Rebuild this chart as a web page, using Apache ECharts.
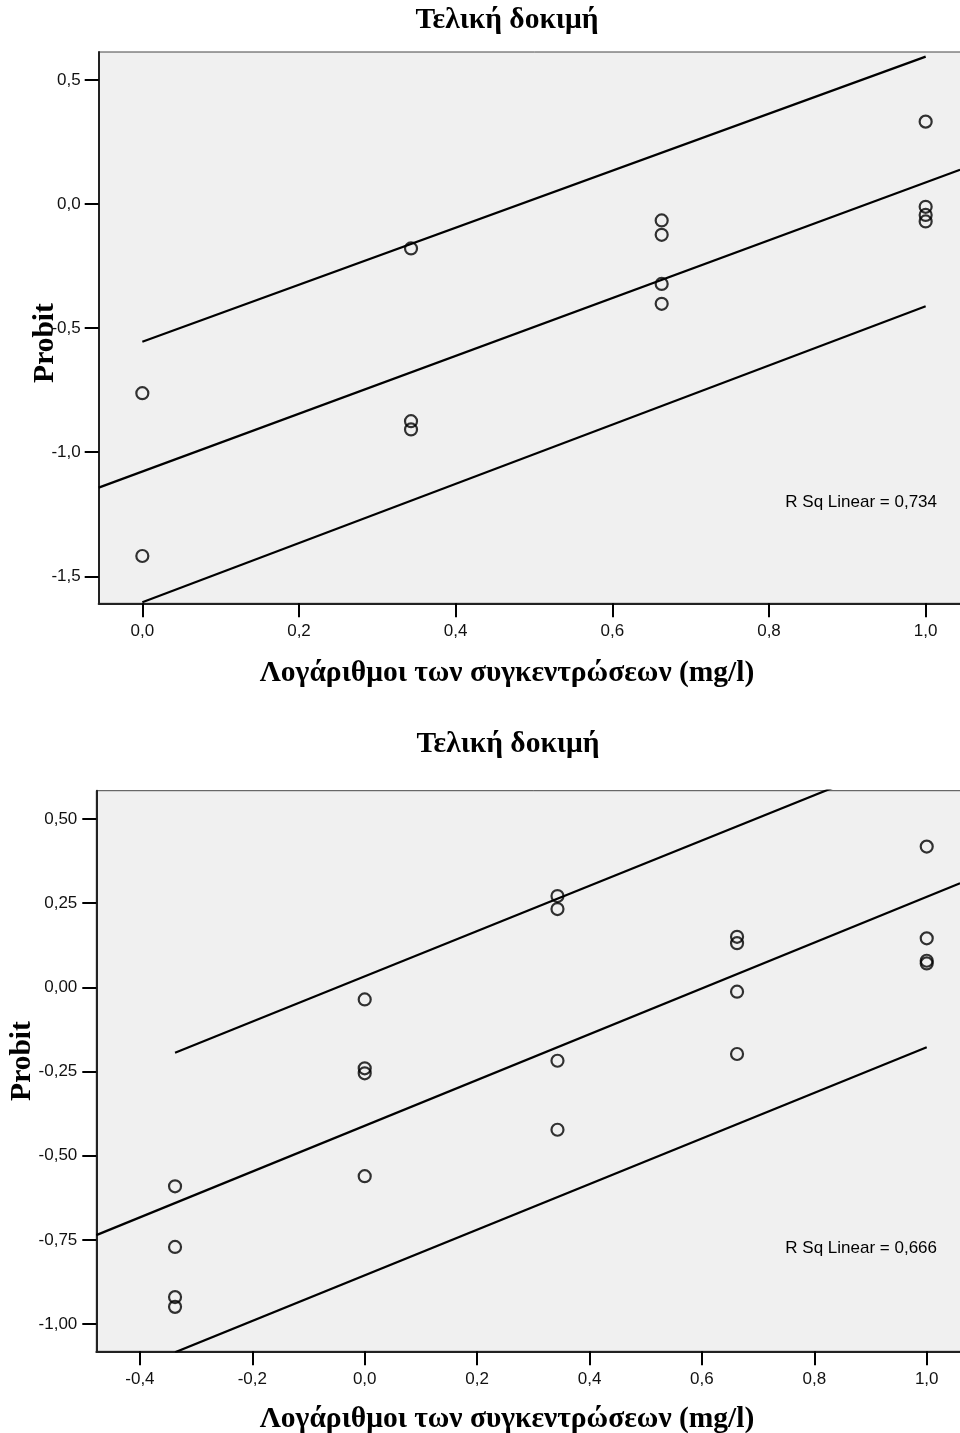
<!DOCTYPE html>
<html>
<head>
<meta charset="utf-8">
<script src="https://cdn.jsdelivr.net/npm/echarts@6/dist/echarts.min.js"></script>
<style>
  html, body { margin: 0; padding: 0; background: #fff; overflow: hidden; width: 960px; }
  #chart { width: 980px; height: 1433px; }
</style>
</head>
<body>
<div id="chart"></div>
<script>
// top panel: points
var topLogConc = [0, 0, 0.343, 0.343, 0.343, 0.663, 0.663, 0.663, 0.663, 1.0, 1.0, 1.0, 1.0];
var topProbit = [-0.762, -1.418, -0.179, -0.875, -0.908, -0.066, -0.124, -0.322, -0.402, 0.332, -0.011, -0.044, -0.070];
// top panel: fit line and prediction bounds
var topFitX = [-0.0557, 1.0439];
var topFitY = [-1.1425, 0.138];
var topUpperX = [0, 1.0];
var topUpperY = [-0.555, 0.594];
var topLowerX = [0, 1.0];
var topLowerY = [-1.604, -0.412];
var topXTicks = [0, 0.2, 0.4, 0.6, 0.8, 1.0];
var topXLabels = ['0,0', '0,2', '0,4', '0,6', '0,8', '1,0'];
var topYTicks = [-1.5, -1.0, -0.5, 0, 0.5];
var topYLabels = ['-1,5', '-1,0', '-0,5', '0,0', '0,5'];
var topRsq = 'R Sq Linear = 0,734';

// bottom panel: points
var botLogConc = [-0.3375, -0.3375, -0.3375, -0.3375, 0, 0, 0, 0, 0.343, 0.343, 0.343, 0.343,
                  0.6625, 0.6625, 0.6625, 0.6625, 1.0, 1.0, 1.0, 1.0];
var botProbit = [-0.591, -0.771, -0.920, -0.949, -0.036, -0.2405, -0.2553, -0.561, 0.271, 0.2325, -0.218, -0.423,
                 0.150, 0.131, -0.013, -0.198, 0.418, 0.1455, 0.079, 0.071];
var botFitX = [-0.4776, 1.0593];
var botFitY = [-0.736, 0.309];
var botUpperX = [-0.3375, 1.0];
var botUpperY = [-0.194, 0.705];
var botLowerX = [-0.3375, 1.0];
var botLowerY = [-1.084, -0.178];
var botXTicks = [-0.4, -0.2, 0, 0.2, 0.4, 0.6, 0.8, 1.0];
var botXLabels = ['-0,4', '-0,2', '0,0', '0,2', '0,4', '0,6', '0,8', '1,0'];
var botYTicks = [-1.0, -0.75, -0.5, -0.25, 0, 0.25, 0.5];
var botYLabels = ['-1,00', '-0,75', '-0,50', '-0,25', '0,00', '0,25', '0,50'];
var botRsq = 'R Sq Linear = 0,666';

var titleText = 'Τελική δοκιμή';
var xName = 'Λογάριθμοι των συγκεντρώσεων (mg/l)';
var yName = 'Probit';

function zip(a, b) {
  return a.map(function (v, i) { return [v, b[i]]; });
}

function labelFor(ticks, labels) {
  return function (v) {
    for (var i = 0; i < ticks.length; i++) {
      if (Math.abs(ticks[i] - v) < 1e-6) return labels[i];
    }
    return '';
  };
}

var sans = '"Liberation Sans", Arial, sans-serif';
var serifBold = 'bold 29.5px "Liberation Serif", "Times New Roman", serif';

function valueAxis(gi, min, max, ticks, labels, margin) {
  return {
    type: 'value',
    gridIndex: gi,
    min: min,
    max: max,
    axisLine: { show: true, onZero: false, lineStyle: { color: '#222', width: 2 } },
    axisTick: { show: true, length: 14, customValues: ticks, lineStyle: { color: '#000', width: 2 } },
    axisLabel: {
      customValues: ticks,
      formatter: labelFor(ticks, labels),
      margin: margin,
      color: '#111',
      fontFamily: sans,
      fontSize: 17
    },
    splitLine: { show: false }
  };
}

function lineSeries(xi, data) {
  return {
    type: 'line',
    xAxisIndex: xi,
    yAxisIndex: xi,
    data: data,
    symbol: 'none',
    clip: true,
    lineStyle: { color: '#000', width: 2.2 },
    silent: true
  };
}

function pointSeries(xi, data) {
  return {
    type: 'scatter',
    xAxisIndex: xi,
    yAxisIndex: xi,
    data: data,
    symbol: 'circle',
    symbolSize: 12,
    itemStyle: { color: 'rgba(0,0,0,0)', borderColor: '#000', borderWidth: 2.2 },
    z: 5
  };
}

function txt(x, y, text, font, align, rot) {
  return {
    type: 'text',
    x: x,
    y: y,
    rotation: rot || 0,
    z: 10,
    style: { text: text, font: font, fill: '#000', textAlign: align || 'center', textVerticalAlign: 'middle' }
  };
}

var myChart = echarts.init(document.getElementById('chart'));
myChart.setOption({
  animation: false,
  backgroundColor: '#fff',
  grid: [
    { left: 98.7, top: 52, width: 871.3, height: 551.3, show: true, backgroundColor: '#f0f0f0', borderColor: '#444', borderWidth: 1 },
    { left: 96.3, top: 790.7, width: 873.7, height: 560.6, show: true, backgroundColor: '#f0f0f0', borderColor: '#444', borderWidth: 1 }
  ],
  xAxis: [
    valueAxis(0, -0.0557, 1.0566, topXTicks, topXLabels, 20),
    valueAxis(1, -0.4776, 1.077, botXTicks, botXLabels, 20)
  ],
  yAxis: [
    valueAxis(0, -1.6086, 0.6126, topYTicks, topYLabels, 18),
    valueAxis(1, -1.081, 0.584, botYTicks, botYLabels, 19)
  ],
  series: [
    lineSeries(0, zip(topFitX, topFitY)),
    lineSeries(0, zip(topUpperX, topUpperY)),
    lineSeries(0, zip(topLowerX, topLowerY)),
    pointSeries(0, zip(topLogConc, topProbit)),
    lineSeries(1, zip(botFitX, botFitY)),
    lineSeries(1, zip(botUpperX, botUpperY)),
    lineSeries(1, zip(botLowerX, botLowerY)),
    pointSeries(1, zip(botLogConc, botProbit))
  ],
  graphic: [
    txt(507, 20, titleText, serifBold),
    txt(507, 673, xName, serifBold),
    txt(45, 343, yName, serifBold, 'center', Math.PI / 2),
    txt(937, 502, topRsq, '17px ' + sans, 'right'),
    txt(508, 744, titleText, serifBold),
    txt(507, 1419, xName, serifBold),
    txt(22, 1061, yName, serifBold, 'center', Math.PI / 2),
    txt(937, 1248, botRsq, '17px ' + sans, 'right')
  ]
});
window.onresize = function () {
  myChart.resize();
};
</script>
</body>
</html>
